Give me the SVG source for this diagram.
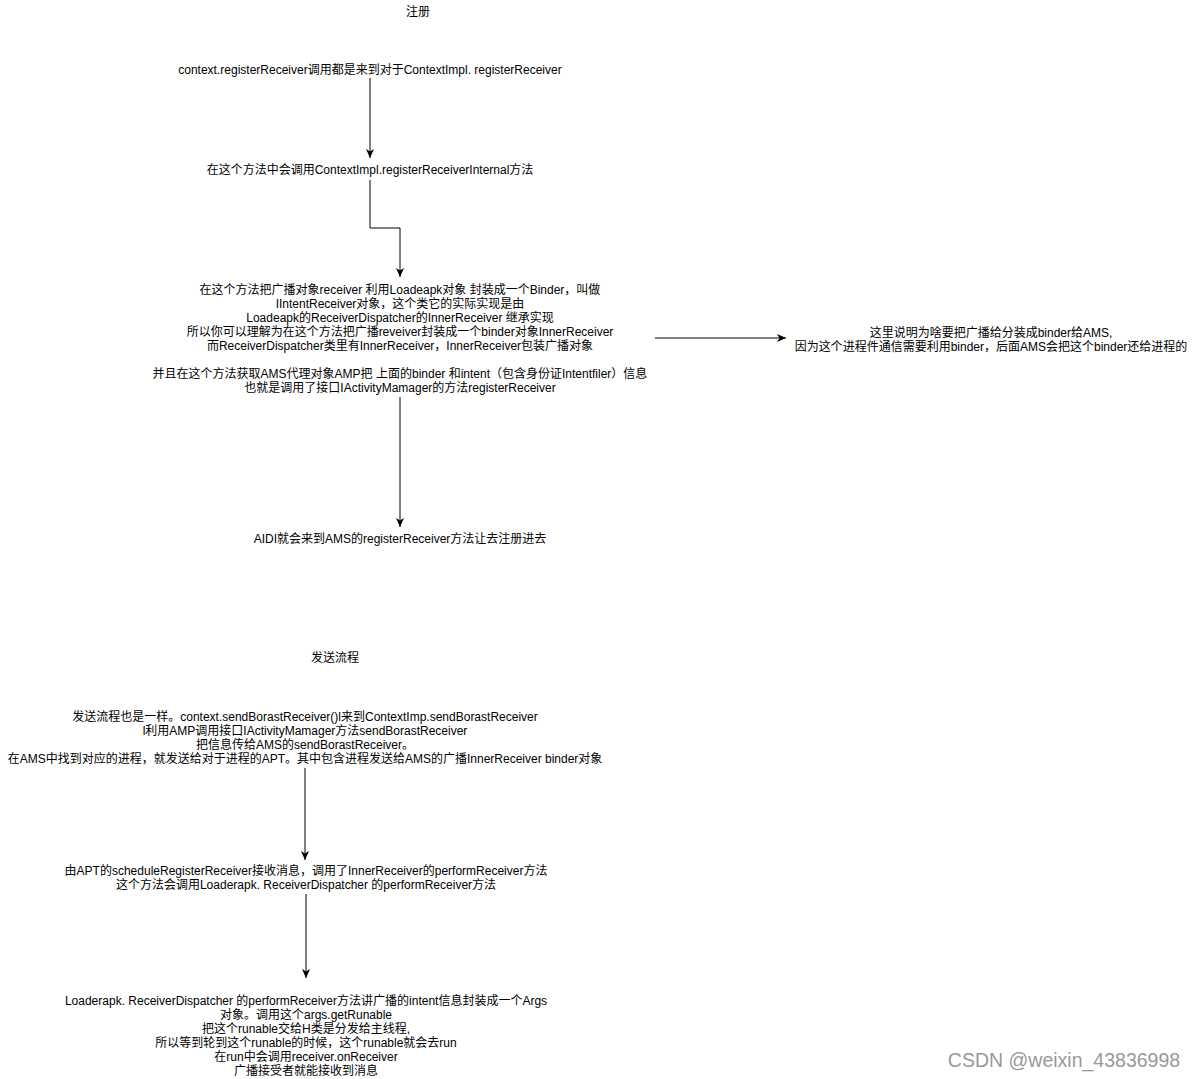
<svg xmlns="http://www.w3.org/2000/svg" width="1196" height="1079" viewBox="0 0 1196 1079">
<style>
text{font-family:"Liberation Sans","Noto Sans CJK SC",sans-serif;font-size:12px;fill:#000;text-anchor:middle}
.edge{fill:none;stroke:#000;stroke-width:1}
.wm{font-size:19.5px;fill:#999}
</style>
<defs>
<marker id="ah" markerWidth="10" markerHeight="10" refX="9" refY="4.5" orient="auto" markerUnits="userSpaceOnUse">
<path d="M0,0.5 L9,4.5 L0,8.5 L2.5,4.5 Z" fill="#000"/>
</marker>
</defs>
<rect width="1196" height="1079" fill="#fff"/>
<g id="connectors">
<path class="edge" d="M370,78 V158" marker-end="url(#ah)"/>
<path class="edge" d="M370,180 V228 H400 V277" marker-end="url(#ah)"/>
<path class="edge" d="M400,397 V527" marker-end="url(#ah)"/>
<path class="edge" d="M655,338 H786" marker-end="url(#ah)"/>
<path class="edge" d="M305,768 V860" marker-end="url(#ah)"/>
<path class="edge" d="M306,894 V978" marker-end="url(#ah)"/>
</g>
<g id="title-register"><text x="418" y="16">注册</text></g>
<g id="n1"><text x="370" y="74">context.registerReceiver调用都是来到对于ContextImpl. registerReceiver</text></g>
<g id="n2"><text x="370" y="174">在这个方法中会调用ContextImpl.registerReceiverInternal方法</text></g>
<g id="n3">
<text x="400" y="294">在这个方法把广播对象receiver 利用Loadeapk对象  封装成一个Binder，叫做</text>
<text x="400" y="308">IIntentReceiver对象，这个类它的实际实现是由</text>
<text x="400" y="322">Loadeapk的ReceiverDispatcher的InnerReceiver 继承实现</text>
<text x="400" y="336">所以你可以理解为在这个方法把广播reveiver封装成一个binder对象InnerReceiver</text>
<text x="400" y="350">而ReceiverDispatcher类里有InnerReceiver，InnerReceiver包装广播对象</text>
<text x="400" y="378">并且在这个方法获取AMS代理对象AMP把 上面的binder 和intent（包含身份证Intentfiler）信息</text>
<text x="400" y="392">也就是调用了接口IActivityMamager的方法registerReceiver</text>
</g>
<g id="n4">
<text x="991" y="337">这里说明为啥要把广播给分装成binder给AMS,</text>
<text x="991" y="351">因为这个进程件通信需要利用binder，后面AMS会把这个binder还给进程的</text>
</g>
<g id="n5"><text x="400" y="543">AIDI就会来到AMS的registerReceiver方法让去注册进去</text></g>
<g id="title-send"><text x="335" y="662">发送流程</text></g>
<g id="n6">
<text x="305" y="721">发送流程也是一样。context.sendBorastReceiver()l来到ContextImp.sendBorastReceiver</text>
<text x="305" y="735">l利用AMP调用接口IActivityMamager方法sendBorastReceiver</text>
<text x="305" y="749">把信息传给AMS的sendBorastReceiver。</text>
<text x="305" y="763">在AMS中找到对应的进程，就发送给对于进程的APT。其中包含进程发送给AMS的广播InnerReceiver  binder对象</text>
</g>
<g id="n7">
<text x="306" y="875">由APT的scheduleRegisterReceiver接收消息，调用了InnerReceiver的performReceiver方法</text>
<text x="306" y="889">这个方法会调用Loaderapk. ReceiverDispatcher 的performReceiver方法</text>
</g>
<g id="n8">
<text x="306" y="1005">Loaderapk. ReceiverDispatcher 的performReceiver方法讲广播的intent信息封装成一个Args</text>
<text x="306" y="1019">对象。调用这个args.getRunable</text>
<text x="306" y="1033">把这个runable交给H类是分发给主线程,</text>
<text x="306" y="1047">所以等到轮到这个runable的时候，这个runable就会去run</text>
<text x="306" y="1061">在run中会调用receiver.onReceiver</text>
<text x="306" y="1075">广播接受者就能接收到消息</text>
</g>
<g id="watermark"><text class="wm" x="1064" y="1067">CSDN @weixin_43836998</text></g>
</svg>
